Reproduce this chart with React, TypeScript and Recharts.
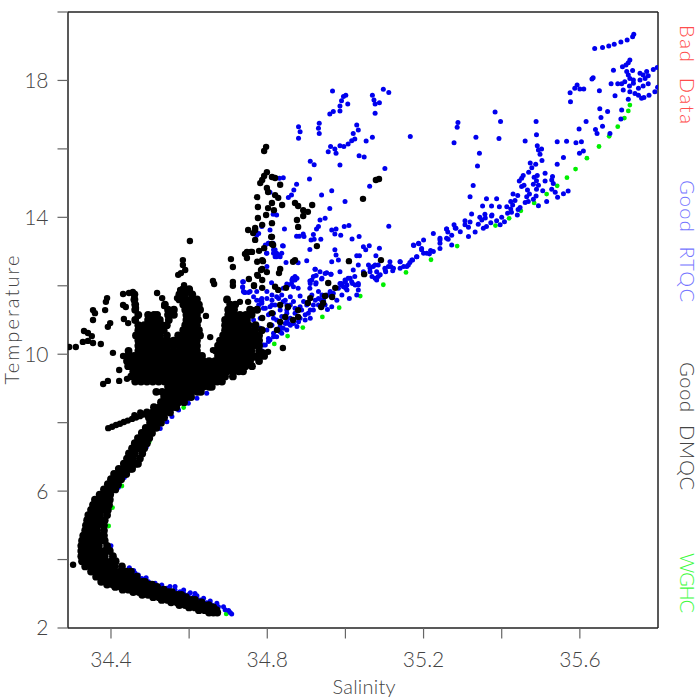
import React from 'react';
import { ScatterChart, Scatter, XAxis, YAxis, Customized } from 'recharts';

type Row = [number, number[]];
type Pt = [number, number];

const xTicks = [34.4, 34.6, 34.8, 35.0, 35.2, 35.4, 35.6];
const xLabels = [34.4, 34.8, 35.2, 35.6];
const yTicks = [2, 4, 6, 8, 10, 12, 14, 16, 18, 20];
const yLabels = [2, 6, 10, 14, 18];
const legendNames = ['Bad  Data', 'Good  RTQC', 'Good  DMQC', 'WGHC'];

// dense DMQC cloud: [temperature, salinities]
const blackRows: Row[] = [
  [2.45, [34.651, 34.662, 34.672]],
  [2.52, [34.625, 34.64, 34.655, 34.67]],
  [2.6, [34.6, 34.615, 34.63, 34.645, 34.662]],
  [2.67, [34.575, 34.59, 34.605, 34.62, 34.635, 34.65]],
  [2.75, [34.554, 34.569, 34.584, 34.599, 34.614, 34.632]],
  [2.82, [34.53, 34.545, 34.56, 34.575, 34.59, 34.605, 34.615]],
  [2.9, [34.508, 34.523, 34.538, 34.553, 34.568, 34.583, 34.592]],
  [2.97, [34.48, 34.495, 34.51, 34.525, 34.54, 34.555, 34.57, 34.58]],
  [3.05, [34.457, 34.472, 34.487, 34.502, 34.517, 34.532, 34.547, 34.556]],
  [3.12, [34.43, 34.445, 34.46, 34.475, 34.49, 34.505, 34.52, 34.535]],
  [3.2, [34.411, 34.426, 34.441, 34.456, 34.471, 34.486, 34.501, 34.518]],
  [3.27, [34.39, 34.405, 34.42, 34.435, 34.45, 34.465, 34.48, 34.495, 34.505]],
  [3.35, [34.375, 34.39, 34.405, 34.42, 34.435, 34.45, 34.465, 34.48, 34.487]],
  [3.5, [34.362, 34.377, 34.392, 34.407, 34.422, 34.437, 34.452, 34.466]],
  [3.65, [34.349, 34.364, 34.379, 34.394, 34.409, 34.424, 34.439, 34.451]],
  [3.8, [34.334, 34.349, 34.364, 34.379, 34.394, 34.409, 34.428]],
  [3.95, [34.326, 34.341, 34.356, 34.371, 34.386, 34.401, 34.412]],
  [4.1, [34.324, 34.339, 34.354, 34.369, 34.384, 34.405]],
  [4.25, [34.324, 34.339, 34.354, 34.369, 34.384, 34.397]],
  [4.4, [34.324, 34.339, 34.354, 34.369, 34.39]],
  [4.55, [34.326, 34.341, 34.356, 34.371, 34.384]],
  [4.7, [34.329, 34.344, 34.359, 34.374, 34.382]],
  [4.85, [34.334, 34.349, 34.364, 34.382]],
  [5.0, [34.336, 34.351, 34.366, 34.382]],
  [5.15, [34.339, 34.354, 34.369, 34.384]],
  [5.3, [34.342, 34.357, 34.372, 34.39]],
  [5.45, [34.349, 34.364, 34.379, 34.392]],
  [5.6, [34.354, 34.369, 34.384, 34.395]],
  [5.75, [34.359, 34.374, 34.386, 34.397]],
  [5.9, [34.371, 34.386, 34.398]],
  [6.05, [34.382, 34.397, 34.411]],
  [6.2, [34.392, 34.405, 34.418]],
  [6.35, [34.4, 34.413, 34.426]],
  [6.5, [34.408, 34.423, 34.439]],
  [6.65, [34.42, 34.435, 34.45, 34.454]],
  [6.8, [34.433, 34.448, 34.463, 34.469]],
  [6.95, [34.441, 34.456, 34.474]],
  [7.1, [34.446, 34.461, 34.48]],
  [7.25, [34.454, 34.469, 34.485]],
  [7.4, [34.461, 34.476, 34.492]],
  [7.55, [34.469, 34.484, 34.498]],
  [7.7, [34.479, 34.492, 34.505]],
  [7.85, [34.489, 34.502, 34.516]],
  [8.0, [34.5, 34.514, 34.528]],
  [8.15, [34.497, 34.512, 34.527, 34.536]],
  [8.3, [34.492, 34.507, 34.522, 34.537, 34.551]],
  [8.45, [34.51, 34.525, 34.54, 34.555, 34.567]],
  [8.6, [34.528, 34.543, 34.558, 34.573, 34.587]],
  [8.75, [34.536, 34.551, 34.566, 34.581, 34.596, 34.605]],
  [8.9, [34.516, 34.531, 34.546, 34.561, 34.576, 34.591, 34.606, 34.621, 34.63]],
  [9.05, [34.546, 34.561, 34.576, 34.591, 34.606, 34.621, 34.636, 34.651, 34.658]],
  [9.2, [34.462, 34.477, 34.492, 34.507, 34.522, 34.537, 34.552, 34.567, 34.582, 34.597, 34.612, 34.627, 34.642, 34.657, 34.672, 34.684]],
  [9.35, [34.452, 34.467, 34.482, 34.497, 34.512, 34.527, 34.542, 34.557, 34.572, 34.587, 34.602, 34.617, 34.632, 34.647, 34.662, 34.677, 34.692, 34.712]],
  [9.5, [34.457, 34.472, 34.487, 34.502, 34.517, 34.532, 34.547, 34.562, 34.577, 34.592, 34.607, 34.622, 34.637, 34.652, 34.667, 34.682, 34.697, 34.712, 34.727, 34.738]],
  [9.65, [34.444, 34.459, 34.474, 34.489, 34.504, 34.519, 34.534, 34.549, 34.564, 34.579, 34.594, 34.609, 34.624, 34.639, 34.654, 34.669, 34.684, 34.699, 34.714, 34.729, 34.744, 34.761]],
  [9.8, [34.441, 34.456, 34.471, 34.486, 34.501, 34.516, 34.531, 34.546, 34.561, 34.576, 34.591, 34.606, 34.621, 34.636, 34.651, 34.666, 34.681, 34.696, 34.711, 34.726, 34.741, 34.756, 34.779]],
  [9.95, [34.444, 34.459, 34.474, 34.489, 34.504, 34.519, 34.534, 34.549, 34.564, 34.579, 34.594, 34.609, 34.624, 34.633, 34.674, 34.689, 34.704, 34.719, 34.734, 34.749, 34.764, 34.779, 34.792]],
  [10.1, [34.445, 34.47, 34.485, 34.5, 34.515, 34.53, 34.545, 34.56, 34.575, 34.59, 34.605, 34.62, 34.669, 34.684, 34.699, 34.714, 34.729, 34.744, 34.759, 34.779]],
  [10.25, [34.47, 34.485, 34.5, 34.515, 34.53, 34.545, 34.56, 34.575, 34.59, 34.605, 34.62, 34.674, 34.689, 34.704, 34.719, 34.734, 34.749, 34.764, 34.779]],
  [10.4, [34.47, 34.485, 34.5, 34.515, 34.53, 34.545, 34.56, 34.575, 34.59, 34.605, 34.62, 34.679, 34.694, 34.709, 34.724, 34.739, 34.754, 34.769, 34.779]],
  [10.55, [34.464, 34.479, 34.494, 34.509, 34.524, 34.543, 34.572, 34.587, 34.602, 34.617, 34.628, 34.687, 34.702, 34.717, 34.732, 34.747, 34.762, 34.779]],
  [10.7, [34.47, 34.485, 34.5, 34.515, 34.53, 34.535, 34.585, 34.6, 34.615, 34.625, 34.692, 34.707, 34.722, 34.737, 34.752, 34.767, 34.786]],
  [10.85, [34.47, 34.485, 34.5, 34.515, 34.53, 34.543, 34.59, 34.605, 34.62, 34.692, 34.707, 34.722, 34.737, 34.752, 34.77]],
  [11.0, [34.462, 34.495, 34.51, 34.525, 34.548, 34.593, 34.608, 34.623, 34.692, 34.707, 34.722, 34.737, 34.748]],
  [11.15, [34.47, 34.495, 34.51, 34.518, 34.546, 34.561, 34.593, 34.608, 34.62, 34.7, 34.715, 34.73, 34.745, 34.76]],
  [11.3, [34.462, 34.546, 34.561, 34.59, 34.605, 34.62, 34.628, 34.7, 34.715, 34.756, 34.774]],
  [11.45, [34.462, 34.538, 34.585, 34.6, 34.615, 34.625, 34.705, 34.718]],
  [11.6, [34.46, 34.575, 34.59, 34.605, 34.62, 34.697]],
  [11.75, [34.46, 34.575, 34.59, 34.608]],
  [11.9, [34.585, 34.6]],
];

// isolated DMQC dots: [salinity, temperature]
const blackDots: Pt[] = [
  [34.293, 10.21], [34.31, 10.21], [34.328, 10.36], [34.341, 10.39], [34.354, 10.33], [34.374, 10.3],
  [34.331, 10.68], [34.341, 10.62], [34.351, 10.53], [34.354, 11.29], [34.359, 11.2], [34.354, 11.0],
  [34.385, 11.29], [34.39, 11.64], [34.387, 11.53], [34.392, 10.8], [34.398, 10.91], [34.431, 11.76],
  [34.446, 11.79], [34.431, 11.44], [34.438, 11.38], [34.433, 11.03], [34.444, 10.91], [34.456, 11.82],
  [34.459, 11.58], [34.464, 11.35], [34.469, 11.12], [34.518, 11.79], [34.531, 11.64], [34.536, 11.41],
  [34.569, 11.64], [34.577, 11.88], [34.405, 10.04], [34.431, 9.95], [34.421, 9.54], [34.38, 9.13],
  [34.392, 9.22], [34.421, 9.22], [34.441, 9.28], [34.654, 10.5], [34.643, 11.12], [34.661, 10.12],
  [34.602, 13.31], [34.584, 12.75], [34.584, 12.61], [34.59, 12.46], [34.572, 12.32], [34.579, 12.37],
  [34.587, 12.02], [34.602, 11.88], [34.661, 12.14], [34.664, 12.05], [34.707, 12.78], [34.712, 12.55],
  [34.712, 12.11], [34.712, 12.0], [34.697, 11.58], [34.71, 11.35], [34.73, 11.53], [34.753, 12.2],
  [34.766, 11.99], [34.748, 12.99], [34.758, 12.99], [34.743, 12.93], [34.779, 13.02], [34.769, 13.63],
  [34.769, 13.34], [34.792, 13.1], [34.774, 12.7], [34.787, 12.75], [34.784, 12.46], [34.799, 12.4],
  [34.776, 12.29], [34.81, 13.43], [34.815, 13.19], [34.797, 16.06], [34.792, 15.94], [34.799, 15.32],
  [34.812, 15.18], [34.787, 15.09], [34.782, 15.0], [34.799, 14.86], [34.833, 14.95], [34.82, 15.15],
  [34.802, 14.74], [34.792, 15.21], [34.774, 14.59], [34.82, 14.65], [34.828, 14.57], [34.812, 14.42],
  [34.802, 14.27], [34.838, 14.36], [34.776, 14.3], [34.871, 14.42], [34.879, 14.33], [34.892, 14.21],
  [34.904, 14.16], [34.915, 14.36], [34.892, 14.04], [34.876, 13.92], [34.879, 13.72], [34.812, 13.83],
  [34.812, 13.43], [34.776, 13.98], [34.751, 13.63], [34.769, 13.69], [34.764, 13.54], [34.812, 13.22],
  [34.748, 12.96], [34.761, 12.99], [34.748, 12.81], [34.789, 12.72], [34.787, 12.49], [34.833, 12.49],
  [34.83, 12.37], [34.866, 12.7], [34.871, 12.75], [34.774, 12.32], [34.787, 12.17], [34.766, 12.02],
  [34.82, 11.97], [34.787, 11.94], [34.828, 11.88], [34.848, 11.94], [34.817, 14.21], [34.797, 14.07],
  [34.787, 13.78], [34.927, 13.16], [35.009, 12.72], [35.048, 12.34], [35.091, 12.75], [35.045, 14.54],
  [35.086, 15.12], [35.078, 15.09], [34.956, 12.08], [34.974, 11.94], [34.948, 11.7], [34.966, 11.67],
  [34.91, 11.64], [34.904, 11.5], [34.943, 11.5], [34.938, 11.38], [34.879, 11.29], [34.879, 11.09],
  [34.866, 11.0], [34.846, 11.09], [34.833, 11.44], [34.853, 11.38], [34.812, 11.2], [34.787, 11.06],
  [34.84, 10.18], [34.802, 10.07], [34.764, 11.29], [34.751, 11.53], [34.833, 10.94], [34.825, 10.71],
  [34.807, 10.85], [34.303, 3.85],
  [34.393, 7.84], [34.403, 7.88], [34.413, 7.93], [34.423, 7.97], [34.433, 8.02], [34.443, 8.06],
  [34.454, 8.11], [34.464, 8.15], [34.474, 8.19], [34.483, 8.24], [34.46, 8.22], [34.475, 8.3],
  [34.565, 8.5], [34.578, 8.62], [34.59, 8.74], [34.602, 8.86],
  [34.6, 9.0], [34.612, 9.05], [34.624, 9.1], [34.636, 9.16], [34.648, 9.22], [34.66, 9.29], [34.672, 9.35], [34.684, 9.41],
  [34.696, 9.48], [34.708, 9.55], [34.72, 9.62], [34.732, 9.69], [34.744, 9.76], [34.756, 9.83], [34.768, 9.9], [34.78, 9.97], [34.79, 10.05],
];

const bluePoints: Pt[] = [
  [35.738, 19.35], [35.735, 19.28], [35.721, 19.18], [35.705, 19.12], [35.688, 19.06], [35.674, 19.01], [35.658, 18.96], [35.638, 18.93],
  [35.728, 18.6], [35.724, 18.52], [35.718, 18.45], [35.709, 18.4], [35.686, 18.3], [35.735, 18.29], [35.72, 18.26], [35.724, 18.16],
  [35.728, 18.06], [35.715, 17.96], [35.707, 17.9], [35.697, 17.9], [35.68, 17.9], [35.737, 18.01], [35.737, 17.92], [35.754, 18.21],
  [35.762, 18.16], [35.771, 18.26], [35.775, 18.14], [35.788, 18.32], [35.798, 18.38], [35.754, 18.01], [35.767, 18.06], [35.775, 17.9],
  [35.762, 17.84], [35.75, 17.77], [35.727, 17.84], [35.711, 17.72], [35.728, 17.67], [35.741, 17.62], [35.75, 17.57], [35.792, 17.67],
  [35.799, 17.8], [35.777, 17.57], [35.764, 17.5], [35.758, 17.48], [35.69, 17.55], [35.724, 17.45], [35.65, 17.7], [35.634, 18.08],
  [35.631, 18.04], [35.593, 17.87], [35.587, 17.77], [35.6, 17.75], [35.61, 17.75], [35.575, 17.64], [35.576, 17.38], [35.651, 17.17],
  [35.671, 17.09], [35.707, 17.14], [35.654, 16.92], [35.705, 16.87], [35.658, 16.66], [35.616, 16.8], [35.598, 16.58], [35.64, 16.57],
  [35.644, 16.45], [35.677, 16.45], [35.542, 16.21], [35.566, 16.22], [35.59, 16.18], [35.604, 16.21], [35.609, 15.94], [35.599, 15.87],
  [35.558, 15.75], [35.542, 15.55], [35.488, 16.8], [35.489, 16.41], [35.46, 16.23], [35.491, 16.09], [35.502, 16.0], [35.494, 15.97],
  [35.498, 15.84], [35.503, 15.66], [35.487, 15.55], [35.473, 15.59], [35.477, 15.45], [35.469, 15.32], [35.455, 15.22], [35.451, 15.14],
  [35.445, 15.06], [35.491, 15.22], [35.483, 15.17], [35.489, 15.07], [35.511, 15.29], [35.511, 15.06], [35.53, 15.19], [35.528, 15.09],
  [35.532, 14.99], [35.481, 14.97], [35.494, 14.94], [35.489, 14.82], [35.457, 14.94], [35.451, 14.9], [35.466, 14.8], [35.471, 14.68],
  [35.488, 14.62], [35.505, 14.78], [35.528, 14.82], [35.537, 14.73], [35.543, 14.59], [35.558, 14.69], [35.57, 14.77], [35.515, 14.46],
  [35.494, 14.34], [35.481, 14.53], [35.468, 14.46], [35.46, 14.43], [35.464, 14.6], [35.441, 14.64], [35.429, 14.68], [35.434, 14.49],
  [35.423, 14.46], [35.428, 14.36], [35.447, 14.29], [35.442, 14.23], [35.423, 14.24], [35.413, 14.31], [35.415, 14.12], [35.425, 14.15],
  [35.44, 14.07], [35.394, 14.31], [35.374, 14.33], [35.351, 14.33], [35.361, 14.54], [35.387, 14.54], [35.319, 14.6], [35.327, 14.93],
  [35.338, 15.5], [35.343, 15.87], [35.334, 16.34], [35.393, 16.3], [35.397, 16.8], [35.383, 17.08], [35.288, 16.77], [35.286, 16.63],
  [35.278, 16.18], [35.323, 14.1], [35.306, 13.9], [35.357, 14.09], [35.344, 14.0], [35.349, 13.92], [35.374, 14.04], [35.387, 13.9],
  [35.4, 14.0], [35.407, 13.87], [35.372, 13.84], [35.361, 13.73], [35.353, 13.68], [35.315, 13.71], [35.278, 13.78], [35.283, 13.68],
  [35.259, 13.66], [34.967, 17.69], [35.001, 17.57], [34.995, 17.53], [34.99, 17.41], [35.006, 17.31], [34.986, 17.25], [34.986, 17.11],
  [34.969, 17.09], [34.96, 17.02], [35.097, 17.74], [35.111, 17.65], [35.069, 17.57], [35.073, 17.43], [35.076, 17.31], [35.087, 17.35],
  [35.076, 17.04], [34.88, 16.65], [34.933, 16.75], [34.931, 16.6], [34.933, 16.45], [34.884, 16.5], [34.88, 16.31], [35.029, 16.7],
  [35.033, 16.55], [35.02, 16.45], [35.024, 16.29], [35.016, 16.24], [35.007, 16.14], [34.996, 16.07], [34.986, 16.09], [34.962, 16.07],
  [34.973, 16.0], [34.956, 15.92], [34.976, 15.87], [35.053, 16.23], [35.069, 16.34], [35.166, 16.36], [35.035, 15.8], [35.048, 15.76],
  [34.986, 15.53], [34.91, 15.64], [34.92, 15.54], [34.908, 15.12], [35.101, 15.43], [35.062, 14.91], [34.965, 14.78], [34.939, 14.65],
  [34.999, 14.46], [34.96, 14.26], [34.875, 14.97], [34.868, 14.8], [34.862, 14.65], [34.854, 14.58], [34.841, 15.16], [34.831, 15.14],
  [34.844, 13.66], [34.948, 13.97], [34.935, 13.92], [34.931, 13.73], [34.926, 13.66], [34.965, 13.63], [34.976, 13.66], [34.973, 13.51],
  [34.988, 13.48], [34.997, 13.73], [35.009, 13.76], [35.111, 13.74], [35.017, 13.37], [35.035, 13.44], [34.875, 13.45], [34.882, 13.45],
  [34.892, 13.51], [34.894, 13.44], [34.918, 13.5], [34.92, 13.36], [34.912, 13.34], [34.937, 13.36], [34.909, 13.06], [34.973, 13.05],
  [34.976, 12.9], [35.046, 13.14], [35.061, 13.17], [35.052, 13.05], [35.087, 13.1], [35.078, 12.88], [35.175, 13.18], [35.188, 13.23],
  [35.195, 13.09], [35.225, 13.53], [35.242, 13.39], [35.259, 13.66], [35.263, 13.36], [35.242, 13.24], [35.218, 13.03], [35.215, 12.93],
  [35.2, 12.95], [35.182, 12.85], [35.172, 12.75], [35.165, 12.68], [35.14, 12.7], [35.157, 12.56], [35.14, 12.51], [35.114, 12.7],
  [35.116, 12.56], [35.101, 12.51], [35.121, 12.44], [35.103, 12.41], [35.084, 12.61], [35.071, 12.56], [35.059, 12.61], [35.076, 12.22],
  [35.084, 12.27], [35.063, 12.41], [35.033, 12.61], [35.029, 12.88], [35.036, 12.88], [35.02, 12.46], [35.024, 12.27], [35.033, 12.07],
  [35.018, 12.07], [35.007, 12.22], [34.999, 12.17], [34.99, 12.07], [35.001, 11.93], [34.986, 12.41], [34.982, 12.75], [34.965, 12.7],
  [34.901, 12.73], [34.879, 12.67], [34.848, 12.68], [34.833, 12.85], [34.824, 12.95], [34.82, 13.05], [34.839, 13.17], [34.815, 13.24],
  [34.803, 13.24], [34.798, 12.95], [34.773, 13.48], [34.786, 13.73], [34.824, 14.07], [34.815, 14.09], [34.807, 14.73], [34.737, 12.12],
  [34.737, 11.95], [34.743, 11.8], [34.922, 12.48], [34.935, 12.41], [34.952, 12.38], [34.963, 12.34], [34.918, 12.27], [34.939, 12.2],
  [34.924, 12.05], [34.909, 12.14], [34.909, 11.93], [34.865, 12.22], [34.871, 12.17], [34.85, 12.05], [34.862, 12.07], [34.879, 11.93],
  [34.884, 11.7], [34.811, 12.09], [34.786, 10.1], [34.795, 10.27], [34.807, 10.42], [34.824, 10.51], [34.837, 10.61], [34.85, 10.71],
  [34.859, 10.85], [34.876, 10.81], [34.88, 10.95], [34.897, 11.0], [34.91, 11.05], [34.905, 11.2], [34.888, 11.29], [34.918, 11.29],
  [34.931, 11.44], [34.923, 11.58], [34.937, 11.6], [34.948, 11.44], [34.954, 11.31], [34.965, 11.39], [34.978, 11.58], [34.991, 11.73],
  [35.004, 11.88], [35.01, 11.63], [35.029, 11.73], [35.033, 11.88], [35.025, 12.02], [34.995, 11.97], [35.0, 12.12], [35.012, 12.22],
  [34.986, 12.07], [34.961, 11.83], [34.957, 11.73], [34.94, 11.73], [34.931, 11.83], [34.914, 11.73], [34.893, 11.54], [34.867, 11.54],
  [34.85, 11.44], [34.773, 11.58], [34.786, 11.49], [34.799, 11.63], [34.812, 11.58], [34.824, 11.68], [34.837, 11.73], [34.846, 11.58],
  [34.859, 11.68], [34.807, 11.39], [34.82, 11.44], [34.833, 11.29], [34.85, 11.2], [34.816, 11.2], [34.803, 11.15], [34.79, 11.34],
  [34.778, 11.44], [34.867, 11.97], [34.876, 12.22], [34.863, 12.17], [34.854, 12.02], [34.841, 11.93], [34.914, 12.17], [34.91, 12.07],
  [34.925, 12.09], [34.94, 12.22], [34.923, 12.48], [34.925, 12.3], [34.948, 12.36], [34.963, 12.34], [34.739, 12.12], [34.741, 11.81],
  [34.756, 11.83], [34.773, 11.83], [34.799, 11.83], [34.833, 10.81], [34.846, 10.9], [34.85, 11.0], [34.816, 13.05], [34.829, 12.9],
  [34.82, 12.85], [34.841, 13.16], [34.795, 13.19], [34.812, 13.24], [35.046, 12.41], [35.063, 12.51], [35.076, 12.61], [35.08, 12.41],
  [35.068, 12.27], [35.08, 12.17], [35.089, 12.32], [35.102, 12.46], [35.11, 12.56], [35.123, 12.51], [35.14, 12.7], [35.149, 12.56],
  [35.161, 12.61], [35.17, 12.75], [35.183, 12.85], [35.174, 13.19], [35.187, 13.24], [35.2, 13.34], [35.195, 13.05], [35.208, 12.95],
  [35.225, 13.0], [35.242, 13.09], [35.242, 13.34], [35.259, 13.39], [35.272, 13.48], [35.272, 13.19], [35.294, 13.58], [35.315, 13.44],
  [35.262, 13.57], [35.281, 13.69], [35.306, 13.78], [35.319, 13.86], [35.34, 13.8], [35.358, 13.98], [35.375, 14.07], [35.332, 13.57],
  [35.396, 13.78], [34.709, 2.41], [34.701, 2.51], [34.688, 2.62], [34.671, 2.72], [34.654, 2.79], [34.637, 2.87], [34.62, 2.94],
  [34.615, 3.01], [34.603, 3.03], [34.586, 3.11], [34.564, 3.21], [34.547, 3.11], [34.556, 3.06], [34.573, 2.99], [34.594, 2.92],
  [34.53, 3.26], [34.513, 3.31], [34.49, 3.47], [34.47, 3.55], [34.458, 3.68], [34.447, 3.76], [34.4, 4.4], [34.419, 6.11], [34.434, 6.4],
  [34.49, 7.28], [34.526, 7.83], [34.543, 8.03], [34.556, 8.18], [34.573, 8.37], [34.598, 8.57], [34.62, 8.71], [34.645, 8.86],
  [34.737, 11.97], [34.739, 11.83], [34.752, 11.8], [34.782, 11.58], [34.786, 11.54], [34.812, 11.44], [34.795, 11.34], [34.769, 11.29],
  [34.76, 11.24], [34.807, 11.19], [34.782, 11.05], [34.816, 11.05], [34.799, 12.56], [34.782, 10.07], [34.79, 10.27], [34.803, 10.46],
  [34.816, 10.61], [34.833, 10.76], [34.782, 10.76], [34.765, 11.0], [34.816, 12.95], [34.837, 12.95], [34.799, 12.95], [34.824, 12.85],
  [34.803, 13.24], [34.807, 13.63], [34.778, 13.53],
  [34.803, 10.37], [34.816, 10.51], [34.833, 10.66], [34.841, 10.76], [34.854, 10.9], [34.867, 10.9], [34.884, 11.05], [34.897, 11.15],
  [34.91, 11.29], [34.918, 11.44], [34.931, 11.63], [34.944, 11.58], [34.952, 11.73], [34.969, 11.78], [34.982, 11.93], [34.991, 12.02],
  [35.004, 12.02], [35.016, 12.12], [35.033, 12.02], [34.859, 11.05], [34.871, 11.2], [34.884, 11.39], [34.901, 11.44], [34.871, 11.34],
  [34.85, 11.29], [34.837, 11.1], [34.824, 11.0], [34.812, 10.85], [34.799, 10.71], [34.859, 11.44], [34.841, 11.54], [34.829, 11.63],
  [34.812, 11.73], [34.786, 11.63], [34.765, 11.68], [34.867, 12.17], [34.871, 12.27],
  [34.543, 3.16], [34.551, 3.21], [34.564, 3.11], [34.577, 3.06], [34.586, 3.01], [34.598, 2.97], [34.611, 2.9], [34.628, 2.82],
  [34.645, 2.74], [34.658, 2.67], [34.675, 2.62], [34.692, 2.53], [34.705, 2.45], [34.526, 3.16], [34.509, 3.26], [34.496, 3.35],
  [34.479, 3.45], [34.462, 3.6],
];

const greenPoints: Pt[] = [
  [35.728, 17.28], [35.724, 17.11], [35.714, 16.9], [35.697, 16.65], [35.675, 16.37], [35.649, 16.07], [35.618, 15.73], [35.589, 15.41],
  [35.567, 15.16], [35.542, 14.92], [35.515, 14.68], [35.483, 14.42], [35.449, 14.19], [35.419, 13.97], [35.384, 13.76], [35.286, 13.16],
  [35.219, 12.76], [35.155, 12.39], [35.097, 12.03], [35.038, 11.7], [34.984, 11.36], [34.941, 11.09], [34.891, 10.78], [34.852, 10.53],
  [34.818, 10.3], [34.586, 8.44], [34.498, 7.44], [34.428, 6.15], [34.404, 5.52], [34.394, 4.98], [34.695, 2.41],
];

const toData = (pts: Pt[]) => pts.map(([s, t]) => ({ s, t }));
const blackCloud = blackRows.flatMap(([t, list]) => list.map(s => ({ s, t })));

const FONT = 'Lato';
const TEXT = '#444';

const dot = (r: number, fill: string) => (p: any) => <circle cx={p.cx} cy={p.cy} r={r} fill={fill} />;

const fmtX = (v: number) => (xLabels.includes(v) ? v.toFixed(1) : '');
const fmtY = (v: number) => (yLabels.includes(v) ? String(v) : '');

const LEGEND_POS = [
  { y: 74.5, len: 99, fill: '#ff4d4d' },
  { y: 241, len: 122, fill: '#7575ff' },
  { y: 426, len: 128, fill: '#444444' },
  { y: 583, len: 60, fill: '#3dfa3d' },
];

const SideText = () => (
  <g fontFamily={FONT} fontSize={20} fontWeight={300}>
    {legendNames.map((name, i) => (
      <text
        key={name}
        x={688}
        y={LEGEND_POS[i].y}
        fill={LEGEND_POS[i].fill}
        textAnchor="middle"
        dominantBaseline="central"
        textLength={LEGEND_POS[i].len}
        style={{ whiteSpace: 'pre' }}
        transform={`rotate(90 688 ${LEGEND_POS[i].y})`}
      >
        {name}
      </text>
    ))}
    <text x={11} y={320} fill={TEXT} textAnchor="middle" dominantBaseline="central" textLength={129} transform="rotate(-90 11 320)">
      Temperature
    </text>
    <text x={364} y={686} fill={TEXT} textAnchor="middle" dominantBaseline="central" textLength={63}>
      Salinity
    </text>
  </g>
);

const axisProps = {
  stroke: '#222',
  strokeWidth: 1.5,
  tickSize: 10.5,
  tickLine: { stroke: '#666', strokeWidth: 1.2 },
  type: 'number' as const,
  allowDataOverflow: true,
  interval: 0 as const,
};
const tickStyle = { fill: TEXT, fontSize: 21, fontFamily: FONT, fontWeight: 300 };

const App: React.FC = () => (
  <div style={{ position: 'absolute', left: 0, top: 0, width: 700, height: 700, background: '#fff' }}>
    <ScatterChart width={700} height={700} margin={{ top: 0, right: 0, bottom: 0, left: 0 }}>
      <XAxis
        {...axisProps}
        xAxisId="b"
        dataKey="s"
        orientation="bottom"
        height={72}
        domain={[34.29, 35.8]}
        ticks={xTicks}
        tickFormatter={fmtX}
        tickMargin={14}
        tick={tickStyle}
      />
      <XAxis {...axisProps} xAxisId="t" orientation="top" height={12} domain={[34.29, 35.8]} ticks={xTicks} tick={false} />
      <YAxis
        {...axisProps}
        yAxisId="l"
        dataKey="t"
        orientation="left"
        width={68}
        domain={[2, 20]}
        ticks={yTicks}
        tickFormatter={fmtY}
        tickMargin={9}
        tick={tickStyle}
      />
      <YAxis {...axisProps} yAxisId="r" orientation="right" width={42} domain={[2, 20]} ticks={yTicks} tick={false} />
      <Scatter xAxisId="b" yAxisId="l" data={toData(greenPoints)} isAnimationActive={false} shape={dot(2.4, '#00ee00')} />
      <Scatter xAxisId="b" yAxisId="l" data={toData(bluePoints)} isAnimationActive={false} shape={dot(2.5, '#0000ee')} />
      <Scatter xAxisId="b" yAxisId="l" data={blackCloud} isAnimationActive={false} shape={dot(3.9, '#000000')} />
      <Scatter xAxisId="b" yAxisId="l" data={toData(blackDots)} isAnimationActive={false} shape={dot(3.2, '#000000')} />
      <Customized component={SideText} />
    </ScatterChart>
  </div>
);

export default App;
